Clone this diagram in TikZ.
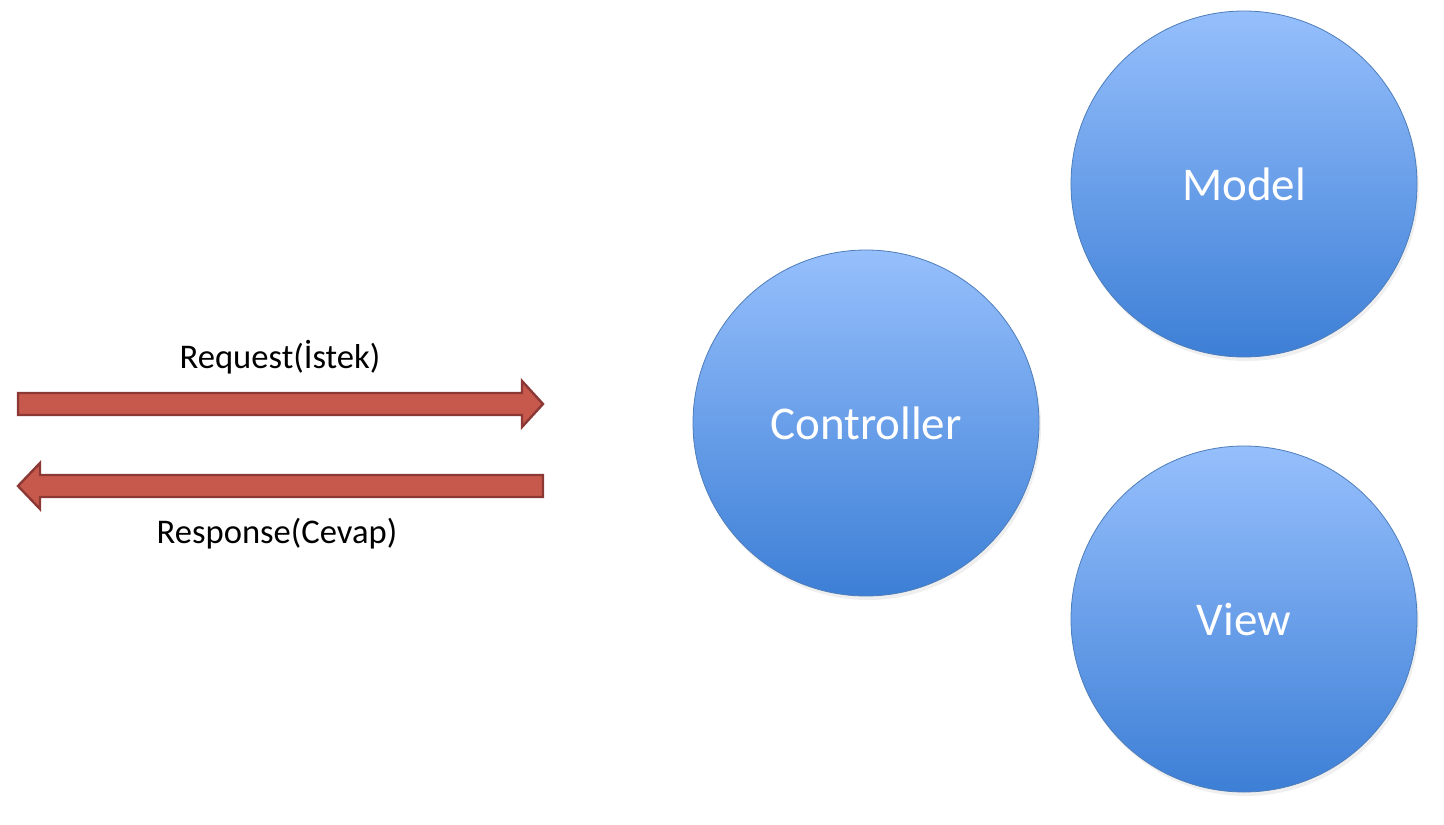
\documentclass[tikz,border=0pt]{standalone}
\usepackage{fontspec}
\setmainfont{Carlito}
\usetikzlibrary{positioning, shadows}
\definecolor{arrowred}{RGB}{199,89,76}
\definecolor{arrowedge}{RGB}{140,56,52}
\definecolor{balltop}{RGB}{150,191,252}
\definecolor{ballmid}{RGB}{122,170,240}
\definecolor{ballbot}{RGB}{61,127,214}
\definecolor{balledge}{RGB}{78,126,186}

\begin{document}
\begin{tikzpicture}[x=0.5pt,y=-0.5pt]
  \tikzstyle{mvc}=[circle,draw=balledge,thin,top color=balltop,middle color=ballmid,
                   bottom color=ballbot,
                   minimum size=173pt,inner sep=0pt,text=white,
                   font=\fontsize{23.5}{28}\selectfont,
                   drop shadow={opacity=0.12,shadow xshift=1pt,shadow yshift=-2pt}]
  \tikzstyle{lbl}=[text=black,inner sep=0pt,font=\fontsize{17.3}{21}\selectfont]
  \tikzstyle{fatarrow}=[fill=arrowred,draw=arrowedge,line width=1.2pt,line join=miter]

  \useasboundingbox[fill=white] (0,0) rectangle (1444,824);

  \node[mvc]         (model) at (1244,184)       {Model};
  \node[mvc]         (controller) at (866,423)   {Controller};
  \node[mvc]         (view) at (1244,619)        {View};

  \node[lbl]         (request) at (280,357)      {Request(İstek)};
  \node[lbl]         (response) at (277,534)     {Response(Cevap)};

  % request, pointing right
  \filldraw[fatarrow] (18,393) -- (522,393) -- (522,381) -- (543,404)
        -- (522,427) -- (522,415) -- (18,415) -- cycle;
  % response, pointing left
  \filldraw[fatarrow] (543,475) -- (40,475) -- (40,463) -- (18,486)
        -- (40,509) -- (40,497) -- (543,497) -- cycle;
\end{tikzpicture}
\end{document}
